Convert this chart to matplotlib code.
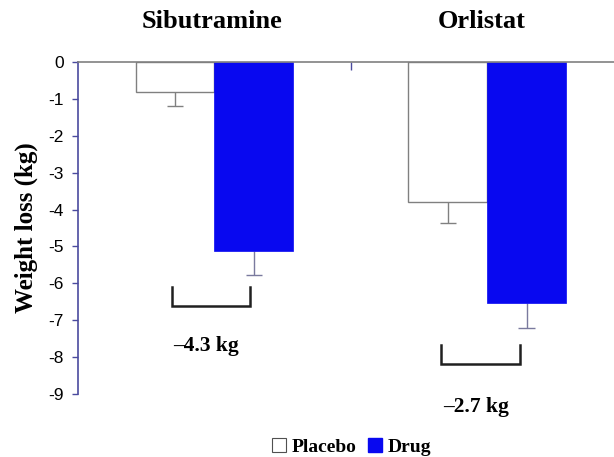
import matplotlib
matplotlib.use("Agg")
import matplotlib.pyplot as plt
from matplotlib.patches import Patch
import numpy as np

# Data
drugs = ['Sibutramine', 'Orlistat']
placebo = [-0.8, -3.8]
placebo_err = [0.38, 0.57]
drug = [-5.13, -6.52]
drug_err = [0.65, 0.70]
diff_labels = ['\u20134.3 kg', '\u20132.7 kg']
# bracket annotations: (x left, x right, top, bottom) and label positions
bracket_x = [(0.344, 0.630), (1.332, 1.619)]
bracket_y = [(-6.09, -6.61), (-7.67, -8.19)]
label_xy = [(0.47, -7.71), (1.46, -9.34)]
yticks = list(range(0, -10, -1))

blue = '#0808f0'
navy = '#4a4a9e'
serif = 'Liberation Serif'

fig = plt.figure(figsize=(6.14, 4.57), dpi=100)
ax = fig.add_axes([78 / 614, 1 - 394 / 457, (623.5 - 78) / 614, (394 - 62) / 457])

centers = np.arange(len(drugs)) + 0.5
w = 0.289
cap = 0.03

# error bars (downward only), drawn behind the bars
for xs, vals, errs, col in [(centers - w / 2, placebo, placebo_err, '#808080'),
                            (centers + w / 2, drug, drug_err, '#7a7a9e')]:
    lows = np.array(vals) - np.array(errs)
    ax.vlines(xs, vals, lows, color=col, lw=1, zorder=1)
    ax.hlines(lows, xs - cap, xs + cap, color=col, lw=1, zorder=1)

ax.bar(centers - w / 2, placebo, w, color='white', edgecolor='#808080', linewidth=1, zorder=2)
ax.bar(centers + w / 2, drug, w, color=blue, edgecolor=blue, linewidth=0.5, zorder=2)

# brackets and differences
for (x0, x1), (yt, yb), (tx, ty), lab in zip(bracket_x, bracket_y, label_xy, diff_labels):
    ax.plot([x0, x0, x1, x1], [yt, yb, yb, yt], color='#202020', lw=1.8, clip_on=False,
            solid_joinstyle='miter')
    ax.text(tx, ty, lab, ha='center', va='center', fontsize=15.5, fontweight='bold',
            family=serif, clip_on=False)

# group titles
title_x = [0.49, 1.48]
for x, name in zip(title_x, drugs):
    ax.text(x, 1 + 40 / 332, name, transform=ax.get_xaxis_transform(), ha='center',
            va='center', fontsize=19, fontweight='bold', family=serif)

ax.set_xlim(0, 2)
ax.set_ylim(-9, 0)
ax.set_yticks(yticks)
ax.set_yticklabels([str(t) for t in yticks], family='Liberation Sans', fontsize=12.5)
ax.tick_params(axis='y', length=4, width=1, color=navy, pad=6)
ax.xaxis.tick_top()
ax.set_xticks([1])
ax.set_xticklabels([])
ax.tick_params(axis='x', direction='in', length=6, width=1, color=navy)

for s in ['right', 'bottom']:
    ax.spines[s].set_visible(False)
ax.spines['left'].set_color(navy)
ax.spines['top'].set_color('#808080')
ax.spines['left'].set_linewidth(1.2)
ax.spines['top'].set_linewidth(1.2)
ax.spines['top'].set_zorder(3)

ax.set_ylabel('Weight loss (kg)', fontsize=18, fontweight='bold', family=serif, labelpad=8)

handles = [Patch(facecolor='white', edgecolor='#505050', lw=0.8),
           Patch(facecolor=blue, edgecolor=blue)]
leg = fig.legend(handles, ['Placebo', 'Drug'], loc='center', bbox_to_anchor=(352 / 614, 1 - 447 / 457),
                 ncol=2, frameon=False, handlelength=0.7, handleheight=0.7, handletextpad=0.3,
                 columnspacing=0.6, prop={'family': serif, 'weight': 'bold', 'size': 14})

fig.savefig('out.png', dpi=100, facecolor='white')
